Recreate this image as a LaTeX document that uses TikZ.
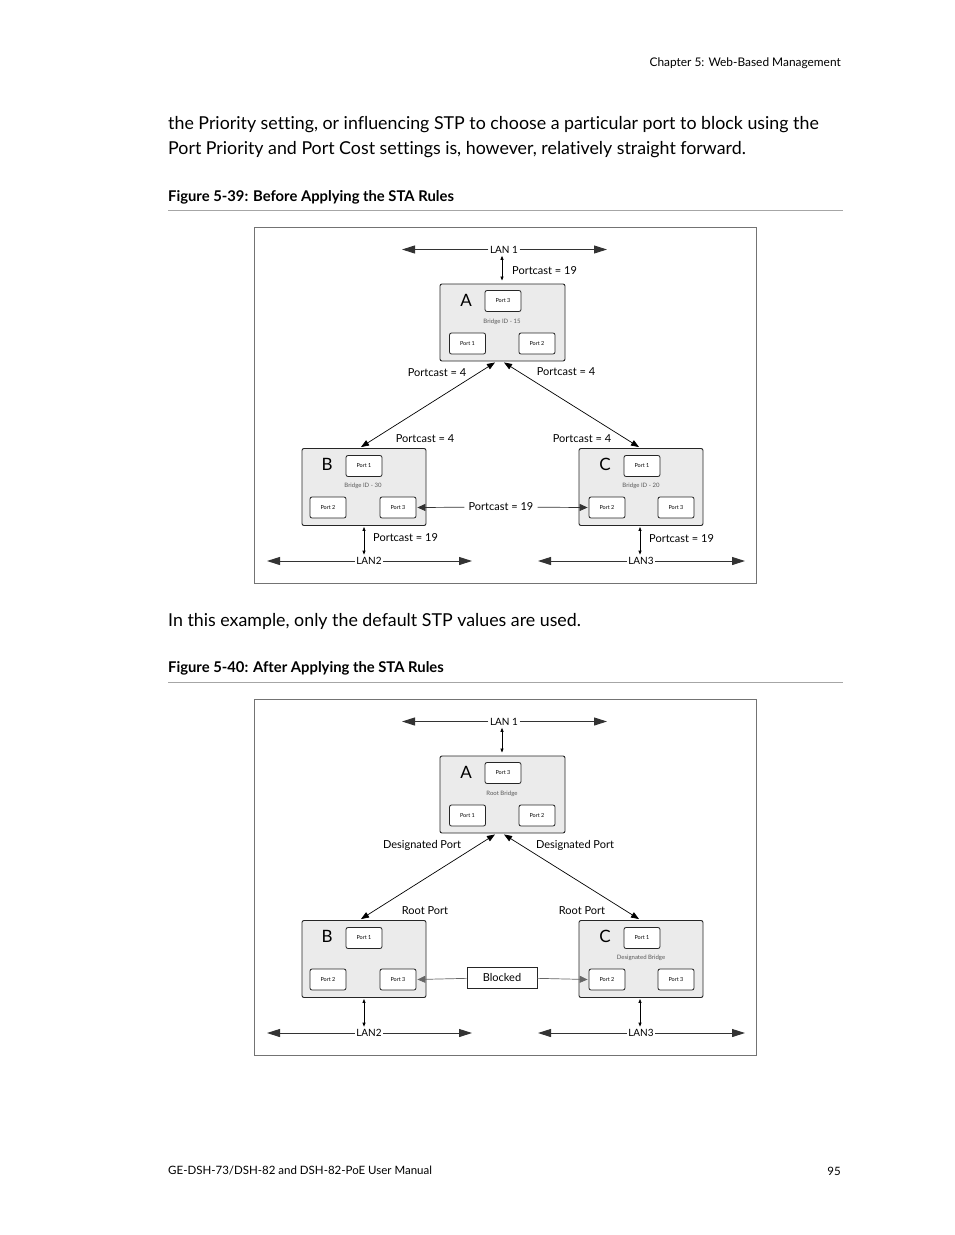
\documentclass[tikz,border=0pt]{standalone}
\usepackage{fontspec}
\setmainfont{Lato}[Ligatures=NoCommon]
\usetikzlibrary{arrows.meta,calc}

\newcommand\setfs[1]{\fontsize{#1}{#1}\selectfont}

\tikzset{
  bridge/.style={draw=black!85,rounded corners=2pt,fill=black!8,line width=0.9pt,
    minimum width=124pt,minimum height=77pt,inner sep=0pt},
  port/.style={draw=black!85,rounded corners=2pt,fill=white,line width=0.8pt,
    minimum width=36pt,minimum height=21pt,inner sep=0pt,font=\setfs{5.5}},
  letter/.style={font=\setfs{17},inner sep=0pt},
  idtext/.style={font=\setfs{6},text=black!65,inner sep=0pt},
  lbl/.style={font=\setfs{11},inner sep=1pt},
  lanlbl/.style={font=\setfs{10},inner sep=1.5pt},
  lan/.style={line width=1pt,black!80,-{Triangle[length=13pt,width=8pt]}},
  drop/.style={line width=0.8pt,{Triangle[length=4pt,width=3pt]}-{Triangle[length=4pt,width=3pt]}},
  link/.style={line width=0.7pt,{Triangle[length=8pt,width=6pt]}-{Triangle[length=8pt,width=6pt]}},
  frame/.style={draw=black!55,line width=0.9pt},
  body/.style={font=\setfs{17.8},anchor=west,inner sep=0pt},
  caption/.style={font=\bfseries\setfs{14.8},anchor=west,inner sep=0pt}
}

\begin{document}
\begin{tikzpicture}[x=1pt,y=-1pt]
\useasboundingbox[fill=white] (0,0) rectangle (954,1235);

% page text
\node[font=\setfs{11.9},anchor=east,inner sep=0pt] (head) at (841,63) {Chapter 5: Web-Based Management};
\node[body] (par1) at (168,125) {the Priority setting, or influencing STP to choose a particular port to block using the};
\node[body] (par2) at (168,150) {Port Priority and Port Cost settings is, however, relatively straight forward.};
\node[caption] (cap1) at (168,197.5) {Figure 5-39: Before Applying the STA Rules};
\draw[black!35,line width=0.8pt] (168,210) -- (843,210);
\node[body] (par3) at (168,621) {In this example, only the default STP values are used.};
\node[caption] (cap2) at (168,668.5) {Figure 5-40: After Applying the STA Rules};
\draw[black!35,line width=0.8pt] (168,682) -- (843,682);
\node[font=\setfs{11.5},anchor=west,inner sep=0pt] (foot) at (168,1171) {GE-DSH-73/DSH-82 and DSH-82-PoE User Manual};
\node[font=\setfs{11.5},anchor=east,inner sep=0pt] (pnum) at (841,1171) {95};

% figure 5-39
\draw[frame] (254,227) rectangle (756,583);

\node[bridge,minimum width=125pt] (A1) at (502.5,322.5) {};
\node[port] (A1p3) at (503,301) {Port 3};
\node[port] (A1p1) at (467.5,343.5) {Port 1};
\node[port] (A1p2) at (537,343.5) {Port 2};
\node[letter] (A1l) at (466,300) {A};
\node[idtext] (A1id) at (502,322) {Bridge ID - 15};

\node[bridge] (B1) at (364,487) {};
\node[port] (B1p1) at (364,466) {Port 1};
\node[port] (B1p2) at (328,507.5) {Port 2};
\node[port] (B1p3) at (398,507.5) {Port 3};
\node[letter] (B1l) at (327,464) {B};
\node[idtext] (B1id) at (363,486) {Bridge ID - 30};

\node[bridge] (C1) at (641,487) {};
\node[port] (C1p1) at (642,466) {Port 1};
\node[port] (C1p2) at (607,507.5) {Port 2};
\node[port] (C1p3) at (676,507.5) {Port 3};
\node[letter] (C1l) at (605,464) {C};
\node[idtext] (C1id) at (641,486) {Bridge ID - 20};

\node[lanlbl] (lan1a) at (504,249.5) {LAN 1};
\coordinate (lan1aw) at (402,249.5);
\coordinate (lan1ae) at (607,249.5);
\draw[lan] (lan1a) -- (lan1aw);
\draw[lan] (lan1a) -- (lan1ae);
\node[lanlbl] (lan2a) at (369,561) {LAN2};
\coordinate (lan2aw) at (267,561);
\coordinate (lan2ae) at (472,561);
\draw[lan] (lan2a) -- (lan2aw);
\draw[lan] (lan2a) -- (lan2ae);
\node[lanlbl] (lan3a) at (641,561) {LAN3};
\coordinate (lan3aw) at (538,561);
\coordinate (lan3ae) at (745,561);
\draw[lan] (lan3a) -- (lan3aw);
\draw[lan] (lan3a) -- (lan3ae);

\draw[drop] ($(lan1a.south)+(-2,1)$) -- ($(A1.north)+(-0.5,-3)$);
\draw[drop] ($(B1.south)+(0,1)$) -- ($(lan2a.north)+(-5,-1)$);
\draw[drop] ($(C1.south)+(-1,1)$) -- ($(lan3a.north)+(-1,-1)$);
\draw[link] ($(A1.south)+(-7.5,1)$) -- ($(B1.north)+(-3,-1)$);
\draw[link] ($(A1.south)+(1.5,1)$) -- ($(C1.north)+(-2,-1)$);

\node[lbl,inner xsep=4pt] (pc19a) at (501,507) {Portcast = 19};
\draw[line width=0.7pt,black!80,-{Triangle[length=8pt,width=7pt]}] (pc19a) -- ($(B1p3.east)+(1,0)$);
\draw[line width=0.7pt,black!80,-{Triangle[length=8pt,width=7pt]}] (pc19a) -- ($(C1p2.west)+(-1,0)$);

\node[lbl,anchor=west] (pcA) at (511,271) {Portcast = 19};
\node[lbl] (pcAB) at (437,373) {Portcast = 4};
\node[lbl] (pcAC) at (566,372) {Portcast = 4};
\node[lbl] (pcBA) at (425,439) {Portcast = 4};
\node[lbl] (pcCA) at (582,439) {Portcast = 4};
\node[lbl,anchor=west] (pcB) at (372,538) {Portcast = 19};
\node[lbl,anchor=west] (pcC) at (648,539) {Portcast = 19};

% figure 5-40
\draw[frame] (254,699) rectangle (756,1055);

\node[bridge,minimum width=125pt] (A2) at (502.5,794.5) {};
\node[port] (A2p3) at (503,773) {Port 3};
\node[port] (A2p1) at (467.5,815.5) {Port 1};
\node[port] (A2p2) at (537,815.5) {Port 2};
\node[letter] (A2l) at (466,772) {A};
\node[idtext] (A2id) at (502,794) {Root Bridge};

\node[bridge] (B2) at (364,959) {};
\node[port] (B2p1) at (364,938) {Port 1};
\node[port] (B2p2) at (328,979.5) {Port 2};
\node[port] (B2p3) at (398,979.5) {Port 3};
\node[letter] (B2l) at (327,936) {B};

\node[bridge] (C2) at (641,959) {};
\node[port] (C2p1) at (642,938) {Port 1};
\node[port] (C2p2) at (607,979.5) {Port 2};
\node[port] (C2p3) at (676,979.5) {Port 3};
\node[letter] (C2l) at (605,936) {C};
\node[idtext] (C2id) at (641,958) {Designated Bridge};

\node[lanlbl] (lan1b) at (504,721.5) {LAN 1};
\coordinate (lan1bw) at (402,721.5);
\coordinate (lan1be) at (607,721.5);
\draw[lan] (lan1b) -- (lan1bw);
\draw[lan] (lan1b) -- (lan1be);
\node[lanlbl] (lan2b) at (369,1033) {LAN2};
\coordinate (lan2bw) at (267,1033);
\coordinate (lan2be) at (472,1033);
\draw[lan] (lan2b) -- (lan2bw);
\draw[lan] (lan2b) -- (lan2be);
\node[lanlbl] (lan3b) at (641,1033) {LAN3};
\coordinate (lan3bw) at (538,1033);
\coordinate (lan3be) at (745,1033);
\draw[lan] (lan3b) -- (lan3bw);
\draw[lan] (lan3b) -- (lan3be);

\draw[drop] ($(lan1b.south)+(-2,1)$) -- ($(A2.north)+(-0.5,-3)$);
\draw[drop] ($(B2.south)+(0,1)$) -- ($(lan2b.north)+(-5,-1)$);
\draw[drop] ($(C2.south)+(-1,1)$) -- ($(lan3b.north)+(-1,-1)$);
\draw[link] ($(A2.south)+(-7.5,1)$) -- ($(B2.north)+(-3,-1)$);
\draw[link] ($(A2.south)+(1.5,1)$) -- ($(C2.north)+(-2,-1)$);

\node[draw=black!85,fill=white,line width=0.8pt,minimum width=70pt,minimum height=21pt,
  inner sep=0pt,font=\setfs{11}] (blk) at (502,977.5) {Blocked};
\draw[line width=0.7pt,black!60,-{Triangle[length=8pt,width=7pt]}] (blk) -- ($(B2p3.east)+(1,0)$);
\draw[line width=0.7pt,black!60,-{Triangle[length=8pt,width=7pt]}] (blk) -- ($(C2p2.west)+(-1,0)$);

\node[lbl] (dpB) at (422,845) {Designated Port};
\node[lbl] (dpC) at (575,845) {Designated Port};
\node[lbl] (rpB) at (425,911) {Root Port};
\node[lbl] (rpC) at (582,911) {Root Port};
\end{tikzpicture}
\end{document}
